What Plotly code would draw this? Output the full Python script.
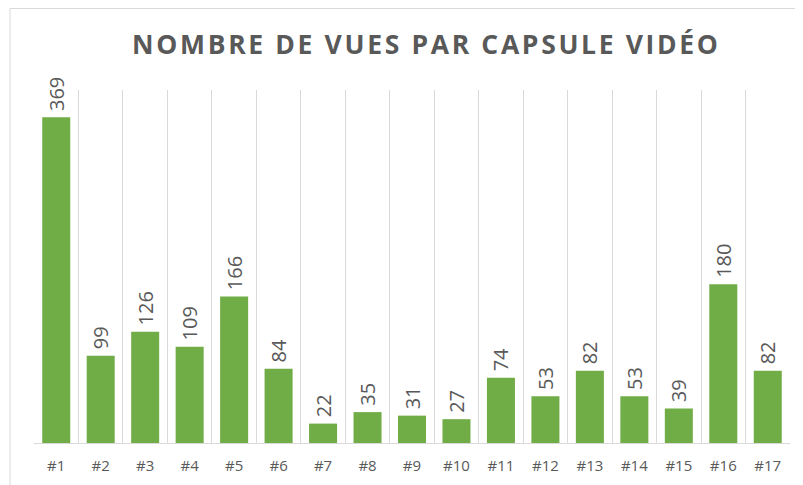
import plotly.graph_objects as go

categories = ["#1", "#2", "#3", "#4", "#5", "#6", "#7", "#8", "#9", "#10",
              "#11", "#12", "#13", "#14", "#15", "#16", "#17"]
views = [369, 99, 126, 109, 166, 84, 22, 35, 31, 27, 74, 53, 82, 53, 39, 180, 82]
title_text = "NOMBRE DE VUES PAR CAPSULE VIDÉO"

# page body has an 8px margin; figure is sized/offset to compensate
OFF = 8
W, H = 803 - OFF, 485 - OFF
ml, mr, mt, mb = 34 - OFF, 13, 90 - OFF, 42
pw = W - ml - mr
ph = H - mt - mb

spaced_title = "\u200a".join(title_text)

fig = go.Figure(go.Bar(
    x=categories, y=views,
    marker=dict(color="#70AD47", line=dict(width=0)),
    text=["\u2009" + str(v) for v in views],
    textposition="outside",
    textangle=-90,
    constraintext="none",
    textfont=dict(family="Open Sans", size=20, color="#595959"),
    cliponaxis=False,
    width=0.63,
))

fig.update_layout(
    width=W, height=H,
    margin=dict(l=ml, r=mr, t=mt, b=mb, autoexpand=False),
    paper_bgcolor="white", plot_bgcolor="white",
    showlegend=False,
    title=dict(text=spaced_title, x=(425 - OFF - ml) / pw, xref="paper", xanchor="center",
               y=1 - (45 - OFF) / H, yanchor="middle",
               font=dict(family="Open Sans", size=26.5, color="#595959", weight="bold")),
    xaxis=dict(type="category", tickson="boundaries", showgrid=True,
               gridcolor="#D9D9D9", gridwidth=1, ticks="",
               showline=True, linecolor="#D9D9D9", linewidth=1,
               automargin=False, ticklabelstandoff=9,
               tickfont=dict(family="Open Sans", size=15, color="#595959")),
    yaxis=dict(range=[0, 400], visible=False, showgrid=False, zeroline=False),
    shapes=[dict(type="rect", xref="paper", yref="paper",
                 x0=(10 - OFF - ml) / pw, x1=(W + 20 - ml) / pw,
                 y0=(H - mb - (H + 20)) / ph, y1=(H - mb - 0.5) / ph,
                 line=dict(color="#D9D9D9", width=1), layer="below")],
)

fig.write_html("out.html")
